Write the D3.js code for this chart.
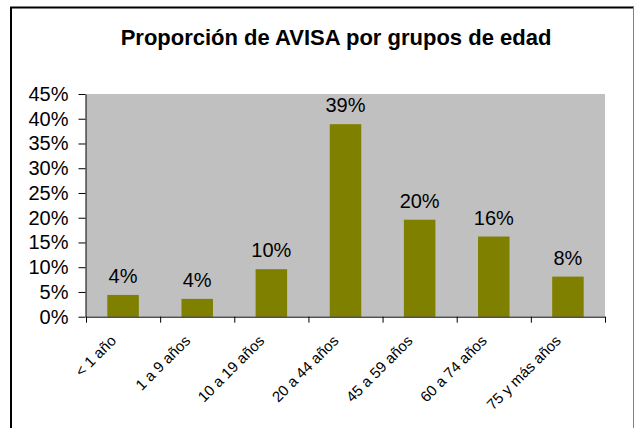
<!DOCTYPE html>
<html>
<head>
<meta charset="utf-8">
<script src="https://cdn.jsdelivr.net/npm/d3@7"></script>
<style>
  body { margin: 0; background: #fff; }
  svg { display: block; font-family: "Liberation Sans", Arial, sans-serif; }
</style>
</head>
<body>
<div id="chart"></div>
<script>
'use strict';

var categories = ['< 1 año', '1 a 9 años', '10 a 19 años', '20 a 44 años',
                  '45 a 59 años', '60 a 74 años', '75 y más años'];
var values = [0.044, 0.036, 0.096, 0.389, 0.196, 0.162, 0.081];
var yTicks = [0, 0.05, 0.10, 0.15, 0.20, 0.25, 0.30, 0.35, 0.40, 0.45];
var title = 'Proporción de AVISA por grupos de edad';

var W = 636, H = 428;
var plotLeft = 86, plotRight = 605, plotTop = 94, plotBottom = 316.7;

var svg = d3.select('#chart').append('svg')
    .attr('width', W)
    .attr('height', H);

// chart frame (bottom edge is cut off in the original)
svg.append('line').attr('x1', 10).attr('x2', 634).attr('y1', 7.5).attr('y2', 7.5)
    .attr('stroke', '#000').attr('stroke-width', 2);
svg.append('line').attr('x1', 11).attr('x2', 11).attr('y1', 7).attr('y2', H)
    .attr('stroke', '#000').attr('stroke-width', 2);
svg.append('line').attr('x1', 633.5).attr('x2', 633.5).attr('y1', 7).attr('y2', H)
    .attr('stroke', '#808080').attr('stroke-width', 1);

svg.append('text')
    .attr('x', 336)
    .attr('y', 45)
    .attr('text-anchor', 'middle')
    .style('font-weight', 'bold')
    .style('font-size', '22px')
    .text(title);

var x = d3.scaleBand().domain(categories).range([plotLeft, plotRight]);
var xEdge = d3.scaleLinear().domain([0, categories.length]).range([plotLeft, plotRight]);
var y = d3.scaleLinear().domain([0, 0.45]).range([plotBottom, plotTop]);

// plot area
svg.append('rect')
    .attr('x', plotLeft).attr('y', plotTop)
    .attr('width', plotRight - plotLeft).attr('height', plotBottom - plotTop)
    .attr('fill', '#c0c0c0');

// bars
var barW = x.bandwidth() * 0.425;
svg.append('g').selectAll('rect')
    .data(values)
    .enter().append('rect')
    .attr('x', function (d, i) { return x(categories[i]) + (x.bandwidth() - barW) / 2; })
    .attr('y', function (d) { return y(d); })
    .attr('width', barW)
    .attr('height', function (d) { return plotBottom - y(d); })
    .attr('fill', '#808000');

// value labels
var pct = d3.format('.0%');
svg.append('g').selectAll('text')
    .data(values)
    .enter().append('text')
    .attr('x', function (d, i) { return x(categories[i]) + x.bandwidth() / 2; })
    .attr('y', function (d) { return y(d) - 12; })
    .attr('text-anchor', 'middle')
    .style('font-size', '20px')
    .text(function (d) { return pct(d); });

// y axis
var yAxis = svg.append('g')
    .attr('transform', 'translate(' + (plotLeft - 0.5) + ',0)')
    .call(d3.axisLeft(y).tickValues(yTicks).tickFormat(pct)
        .tickSize(7).tickSizeOuter(0).tickPadding(10));
yAxis.selectAll('text').style('font-size', '20px').attr('fill', '#000')
    .style('font-family', '"Liberation Sans", Arial, sans-serif');
yAxis.selectAll('line, path').attr('stroke', '#000');

// x axis, ticks on category boundaries
var xAxis = svg.append('g')
    .attr('transform', 'translate(0,' + plotBottom + ')')
    .call(d3.axisBottom(xEdge).ticks(categories.length).tickFormat('')
        .tickSize(6).tickSizeOuter(0));
xAxis.selectAll('line, path').attr('stroke', '#000');

// rotated category labels
svg.append('g').selectAll('text')
    .data(categories)
    .enter().append('text')
    .attr('transform', function (d) {
        var cx = x(d) + x.bandwidth() / 2 - 6;
        return 'translate(' + cx + ',' + (plotBottom + 25) + ') rotate(-45)';
    })
    .attr('text-anchor', 'end')
    .style('font-size', '15px')
    .text(function (d) { return d; });
</script>
</body>
</html>
